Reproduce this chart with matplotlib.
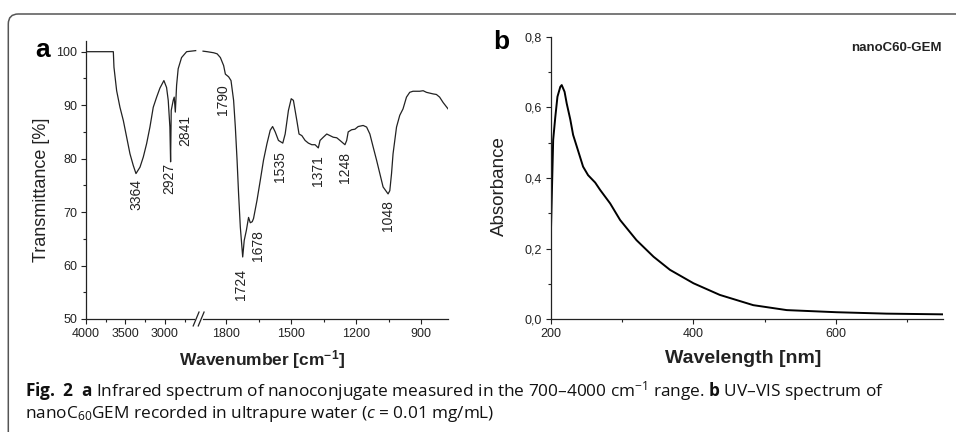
import numpy as np
import matplotlib
matplotlib.use("Agg")
import matplotlib.pyplot as plt
from matplotlib.patches import FancyBboxPatch
from matplotlib.transforms import IdentityTransform
from matplotlib.ticker import FixedLocator, FuncFormatter

plt.rcParams["font.family"] = ["Liberation Sans", "DejaVu Sans"]
plt.rcParams["mathtext.fontset"] = "custom"
plt.rcParams["mathtext.rm"] = "Open Sans"
plt.rcParams["mathtext.bf"] = "Open Sans:bold"
plt.rcParams["mathtext.it"] = "Open Sans:italic"

# --- (a) IR spectrum, high-wavenumber segment (left of the axis break)
ir_wn_hi = [4000, 3823, 3654, 3646, 3612, 3570, 3527, 3485, 3443, 3401, 3367,
            3316, 3274, 3232, 3190, 3148, 3105, 3063, 3013, 2979, 2958, 2937,
            2928, 2920, 2895, 2882, 2868, 2852, 2832, 2789, 2725, 2610]
ir_t_hi = [100.0, 100.0, 100.0, 97.1, 92.7, 89.6, 87.1, 84.0, 80.9, 78.7, 77.2,
           78.4, 80.3, 82.8, 85.9, 89.6, 91.5, 93.2, 94.6, 93.3, 90.9, 85.9,
           79.4, 89.0, 90.9, 91.5, 88.7, 93.7, 96.8, 98.9, 100.0, 100.2]

# --- (a) IR spectrum, fingerprint segment (right of the break)
ir_wn_lo = [1906, 1887, 1857, 1841, 1826, 1811, 1803, 1788, 1777, 1765, 1757,
            1749, 1742, 1734, 1723, 1716, 1706, 1696, 1688, 1679, 1673, 1657,
            1642, 1627, 1611, 1596, 1585, 1573, 1558, 1538, 1527, 1512, 1499,
            1489, 1473, 1463, 1450, 1435, 1420, 1404, 1389, 1374, 1366, 1351,
            1335, 1320, 1305, 1289, 1274, 1251, 1243, 1236, 1220, 1205, 1190,
            1167, 1151, 1136, 1121, 1105, 1090, 1075, 1052, 1044, 1036, 1029,
            1013, 998, 983, 967, 952, 937, 906, 890, 875, 844, 829, 814, 798, 775]
ir_t_lo = [100.1, 100.0, 99.8, 99.6, 98.9, 97.4, 95.8, 95.3, 94.6, 90.9, 85.9,
           79.7, 73.4, 67.2, 61.6, 64.7, 66.6, 69.0, 68.0, 68.2, 68.8, 72.2,
           75.9, 79.7, 82.8, 85.3, 86.0, 85.0, 83.4, 82.9, 84.6, 89.0, 91.2,
           90.9, 87.1, 84.6, 84.3, 83.4, 82.9, 82.6, 82.6, 82.0, 83.4, 84.0,
           84.6, 84.3, 84.0, 83.9, 83.4, 82.6, 83.4, 85.0, 85.4, 85.5, 86.0,
           86.2, 85.9, 84.6, 82.2, 79.7, 77.2, 74.7, 73.4, 74.0, 77.2, 80.9,
           85.9, 88.1, 89.3, 91.5, 92.4, 92.6, 92.6, 92.7, 92.4, 92.1, 92.0, 91.5, 90.5, 89.3]

peak_names = ["3364", "2927", "2841", "1790", "1724", "1678", "1535", "1371", "1248", "1048"]
peak_wn = [3359, 2949, 2747, 1814, 1731, 1653, 1550, 1377, 1252, 1054]
peak_t = [76.2, 79.2, 88.1, 94.0, 59.3, 66.6, 81.4, 80.6, 81.2, 72.3]

ir_major = [4000, 3500, 3000, 1800, 1500, 1200, 900]
ir_minor = [3750, 3250, 2750, 1650, 1350, 1050]

# --- (b) UV-VIS spectrum
uv_wl = [200, 203, 206, 209, 213, 215, 219, 222, 227, 231, 236, 245, 252, 262,
         269, 283, 297, 320, 344, 367, 400, 437, 484, 531, 601, 671, 750]
uv_abs = [0.262, 0.508, 0.573, 0.630, 0.658, 0.663, 0.644, 0.611, 0.566, 0.522,
          0.490, 0.432, 0.408, 0.387, 0.366, 0.328, 0.281, 0.224, 0.177, 0.140,
          0.102, 0.069, 0.040, 0.026, 0.020, 0.016, 0.014]

# broken wavenumber axis: two linear pieces (4000-2560 and 1920-700),
# increasing in x so an inverted xlim puts 4000 on the left
BRK_X = [700, 1920, 2560, 4000]
BRK_V = [-379.0, -114.2, -113.8, 0.0]


def fwd(x):
    return np.interp(x, BRK_X, BRK_V)


def inv(v):
    return np.interp(v, BRK_V, BRK_X)


fig = plt.figure(figsize=(9.56, 4.32), dpi=100)
axA = fig.add_axes([0.0900, 0.2616, 0.3787, 0.6435])
axB = fig.add_axes([0.5764, 0.2609, 0.4097, 0.6542])

ink = "#222222"
for ax in (axA, axB):
    ax.spines[["top", "right"]].set_visible(False)
    for s in ("left", "bottom"):
        ax.spines[s].set_color(ink)
        ax.spines[s].set_linewidth(0.9)
    ax.tick_params(which="both", direction="out", colors=ink, labelsize=9, width=0.8)
    ax.tick_params(which="major", length=3.5, pad=3)
    ax.tick_params(which="minor", length=2)

# (a)
axA.set_xscale("function", functions=(fwd, inv))
axA.plot(ir_wn_hi, ir_t_hi, color=ink, lw=0.9)
axA.plot(ir_wn_lo, ir_t_lo, color=ink, lw=0.9)
axA.set_xlim(4000, 775)
axA.set_ylim(50, 102)
axA.xaxis.set_major_locator(FixedLocator(ir_major))
axA.xaxis.set_minor_locator(FixedLocator(ir_minor))
axA.xaxis.set_major_formatter(FuncFormatter(lambda v, p: f"{v:.0f}"))
axA.yaxis.set_major_locator(FixedLocator(np.arange(50, 101, 10)))
axA.yaxis.set_minor_locator(FixedLocator(np.arange(55, 100, 10)))
for name, x, y in zip(peak_names, peak_wn, peak_t):
    axA.text(x, y, name, rotation=90, ha="center", va="top", fontsize=10, color=ink)
# break marks on the x axis
axA.plot([0.304, 0.318], [0.0, 0.0], color="white", lw=2, transform=axA.transAxes,
         clip_on=False, zorder=5)
for x0 in (0.296, 0.310):
    axA.plot([x0, x0 + 0.016], [-0.025, 0.025], color=ink, lw=0.9,
             transform=axA.transAxes, clip_on=False, zorder=6)
axA.set_xlabel("Wavenumber [cm$\\mathregular{^{-1}}$]", fontsize=12.5, fontweight="bold",
               color=ink)
axA.set_ylabel("Transmittance [%]", fontsize=13, color=ink)
axA.xaxis.set_label_coords(0.486, -0.104)
axA.yaxis.set_label_coords(-0.099, 0.466)

# (b)
axB.plot(uv_wl, uv_abs, color="black", lw=1.4)
axB.set_xlim(200, 750)
axB.set_ylim(0, 0.8)
axB.xaxis.set_major_locator(FixedLocator([200, 400, 600]))
axB.xaxis.set_minor_locator(FixedLocator([300, 500, 700]))
axB.yaxis.set_major_locator(FixedLocator(np.arange(0, 0.81, 0.2)))
axB.yaxis.set_minor_locator(FixedLocator(np.arange(0.1, 0.8, 0.2)))
axB.yaxis.set_major_formatter(FuncFormatter(lambda v, p: f"{v:.1f}".replace(".", ",")))
axB.text(0.998, 0.96, "nanoC60-GEM", transform=axB.transAxes, ha="right", va="center",
         fontsize=9.5, fontweight="bold", color=ink)
axB.set_xlabel("Wavelength [nm]", fontsize=14, fontweight="bold", color=ink)
axB.set_ylabel("Absorbance", fontsize=13.5, color=ink)
axB.xaxis.set_label_coords(0.490, -0.109)
axB.yaxis.set_label_coords(-0.109, 0.472)

fig.text(0.0366, 1 - 57.3 / 432, "a", fontsize=19, fontweight="bold", ha="left",
         va="baseline", color="black")
fig.text(0.5157, 1 - 49.3 / 432, "b", fontsize=19, fontweight="bold", ha="left",
         va="baseline", color="black")

# rounded frame around the figure (open to the right/bottom like the page crop)
fig.patches.append(FancyBboxPatch((8.3, -30), 1000, 432 - 14 + 30,
                                  boxstyle="round,pad=0,rounding_size=10",
                                  transform=IdentityTransform(), fill=False,
                                  edgecolor="#555555", lw=1.1))

cap1 = ("$\\mathbf{Fig.\\ 2}$  $\\mathbf{a}$ Infrared spectrum of nanoconjugate measured "
        "in the 700–4000 cm$^{-1}$ range. $\\mathbf{b}$ UV–VIS spectrum of")
cap2 = "nanoC$_{60}$GEM recorded in ultrapure water ($c$ = 0.01 mg/mL)"
fig.text(0.0262, 1 - 396.5 / 432, cap1, fontsize=12.4, family="Open Sans", ha="left",
         va="baseline", color="#111111")
fig.text(0.0262, 1 - 417.5 / 432, cap2, fontsize=12.4, family="Open Sans", ha="left",
         va="baseline", color="#111111")

fig.savefig("out.png", dpi=100)
